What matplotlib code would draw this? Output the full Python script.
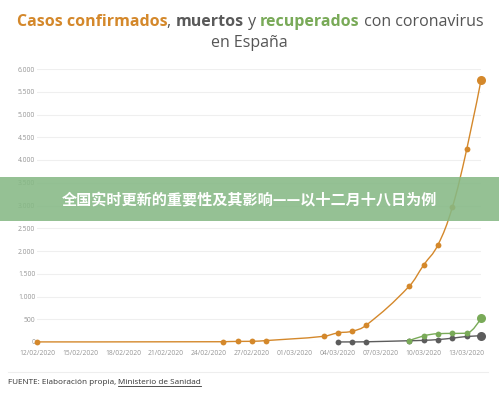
import datetime as dt
import matplotlib
matplotlib.use("Agg")
import matplotlib.pyplot as plt
import matplotlib.dates as mdates
from matplotlib.path import Path
from matplotlib.patches import PathPatch, Rectangle
from matplotlib.ticker import FuncFormatter

# ---------------- data ----------------
conf_dates = ["2020-02-12", "2020-02-25", "2020-02-26", "2020-02-27", "2020-02-28",
              "2020-03-03", "2020-03-04", "2020-03-05", "2020-03-06", "2020-03-09",
              "2020-03-10", "2020-03-11", "2020-03-12", "2020-03-13", "2020-03-14"]
conf_vals = [2, 6, 13, 15, 32, 125, 200, 237, 374, 1231, 1695, 2140, 2965, 4231, 5753]

death_dates = ["2020-03-04", "2020-03-05", "2020-03-06", "2020-03-09", "2020-03-10",
               "2020-03-11", "2020-03-12", "2020-03-13", "2020-03-14"]
death_vals = [1, 2, 5, 28, 36, 54, 84, 121, 136]

rec_dates = ["2020-03-09", "2020-03-10", "2020-03-11", "2020-03-12", "2020-03-13", "2020-03-14"]
rec_vals = [30, 135, 183, 189, 193, 517]

y_ticks = [0, 500, 1000, 1500, 2000, 2500, 3000, 3500, 4000, 4500, 5000, 5500, 6000]
x_tick_labels = ["12/02/2020", "15/02/2020", "18/02/2020", "21/02/2020", "24/02/2020",
                 "27/02/2020", "01/03/2020", "04/03/2020", "07/03/2020", "10/03/2020",
                 "13/03/2020"]

title_parts = [("Casos confirmados", "#d4882b", "bold"), (", ", "#555555", "normal"),
               ("muertos", "#5a5a5a", "bold"), (" y ", "#555555", "normal"),
               ("recuperados", "#79aa58", "bold"), (" con coronavirus", "#555555", "normal")]
title_line2 = "en España"
banner_text = "全国实时更新的重要性及其影响——以十二月十八日为例"
source_prefix = "FUENTE: Elaboración propia, "
source_link = "Ministerio de Sanidad"

C_ORANGE = "#d4882b"
C_GRAY = "#5c5c5c"
C_GREEN = "#79aa58"


def to_num(dates):
    return [mdates.date2num(dt.datetime.strptime(d, "%Y-%m-%d")) for d in dates]


def spline_path(xs, ys, smoothing=1.5):
    """Highcharts-style spline path through the data points (Bezier)."""
    denom = smoothing + 1
    n = len(xs)
    verts = [(xs[0], ys[0])]
    codes = [Path.MOVETO]
    right_prev = (xs[0], ys[0])
    for i in range(1, n):
        px, py = xs[i], ys[i]
        if i < n - 1:
            lx, ly = xs[i - 1], ys[i - 1]
            nx, ny = xs[i + 1], ys[i + 1]
            lcx = (smoothing * px + lx) / denom
            lcy = (smoothing * py + ly) / denom
            rcx = (smoothing * px + nx) / denom
            rcy = (smoothing * py + ny) / denom
            corr = 0
            if rcx != lcx:
                corr = (rcy - lcy) * (rcx - px) / (rcx - lcx) + py - rcy
            lcy += corr
            rcy += corr
            if lcy > ly and lcy > py:
                lcy = max(ly, py)
                rcy = 2 * py - lcy
            elif lcy < ly and lcy < py:
                lcy = min(ly, py)
                rcy = 2 * py - lcy
            if rcy > ny and rcy > py:
                rcy = max(ny, py)
                lcy = 2 * py - rcy
            elif rcy < ny and rcy < py:
                rcy = min(ny, py)
                lcy = 2 * py - rcy
            left_c = (lcx, lcy)
            right_c = (rcx, rcy)
        else:
            left_c = (px, py)
            right_c = (px, py)
        verts += [right_prev, left_c, (px, py)]
        codes += [Path.CURVE4, Path.CURVE4, Path.CURVE4]
        right_prev = right_c
    return Path(verts, codes)


fig = plt.figure(figsize=(4.99, 3.99), dpi=100)
fig.patch.set_facecolor("white")

ax = fig.add_axes([37.3 / 499, 57 / 399, (481 - 37.3) / 499, 273 / 399])

xc, xd, xr = to_num(conf_dates), to_num(death_dates), to_num(rec_dates)

series = [(xc, conf_vals, C_ORANGE, 4), (xd, death_vals, C_GRAY, 3), (xr, rec_vals, C_GREEN, 5)]
for xs, ys, col, z in series:
    ax.add_patch(PathPatch(spline_path(xs, ys), fill=False, edgecolor=col, lw=1.0,
                           zorder=z, clip_on=False))
    ax.plot(xs[:-1], ys[:-1], "o", color=col, ms=4.2, mew=0, zorder=z + 0.5, clip_on=False)
    ax.plot(xs[-1:], ys[-1:], "o", color=col, ms=6.5, mew=0, zorder=z + 0.5, clip_on=False)

x0 = mdates.date2num(dt.datetime(2020, 2, 12))
x1 = mdates.date2num(dt.datetime(2020, 3, 14))
ax.set_xlim(x0, x1)
ax.set_ylim(0, 6000)

ax.set_yticks(y_ticks)
ax.yaxis.set_major_formatter(FuncFormatter(lambda v, p: f"{int(v):,}".replace(",", ".")))
ax.set_xticks([x0 + 3 * i for i in range(len(x_tick_labels))])
ax.set_xticklabels(x_tick_labels)

for s in ax.spines.values():
    s.set_visible(False)
ax.grid(axis="y", color="#efefef", lw=0.8)
ax.set_axisbelow(True)
ax.tick_params(axis="both", length=0, labelcolor="#959595", labelsize=4.9)
ax.tick_params(axis="y", pad=1.5)
ax.tick_params(axis="x", pad=6)
for lab in ax.get_xticklabels() + ax.get_yticklabels():
    lab.set_family("Open Sans")

# ---------------- title (multi-coloured) ----------------
renderer = fig.canvas.get_renderer()
tsize = 11.5
widths = []
tmp_texts = []
for txt, col, w in title_parts:
    t = fig.text(0, 0, txt, fontsize=tsize, family="Open Sans", weight=w, color=col)
    widths.append(t.get_window_extent(renderer).width)
    tmp_texts.append(t)
total = sum(widths)
xpos = (499 - total) / 2 + 0.5
for t, w in zip(tmp_texts, widths):
    t.set_position((xpos / 499, 1 - 22 / 399))
    t.set_va("center")
    xpos += w
fig.text(0.5, 1 - 43 / 399, title_line2, fontsize=tsize, family="Open Sans",
         color="#555555", ha="center", va="center")

# ---------------- footer ----------------
fig.add_artist(plt.Line2D([8 / 499, 488 / 499], [1 - 371.5 / 399] * 2, color="#eeeeee", lw=0.8))
tp = fig.text(8 / 499, 1 - 383 / 399, source_prefix, fontsize=5.9, family="Open Sans",
              color="#333333", va="center")
wp = tp.get_window_extent(renderer).width
tl = fig.text((8 + wp) / 499, 1 - 383 / 399, source_link, fontsize=5.9, family="Open Sans",
              color="#333333", va="center")
bb = tl.get_window_extent(renderer)
fig.add_artist(plt.Line2D([bb.x0 / 499, bb.x1 / 499], [(bb.y0 + 0.5) / 399] * 2,
                          color="#333333", lw=0.6))

# ---------------- banner overlay ----------------
fig.add_artist(Rectangle((0, 1 - 221 / 399), 1, 44 / 399, transform=fig.transFigure,
                         facecolor="#86b985", alpha=0.88, edgecolor="none", zorder=20))
fig.text(0.5, 1 - 200.5 / 399, banner_text, fontsize=10.9, weight="bold", color="white",
         family=["Noto Sans CJK SC", "DejaVu Sans"], ha="center", va="center", zorder=21)

fig.savefig("out.png", dpi=100)
